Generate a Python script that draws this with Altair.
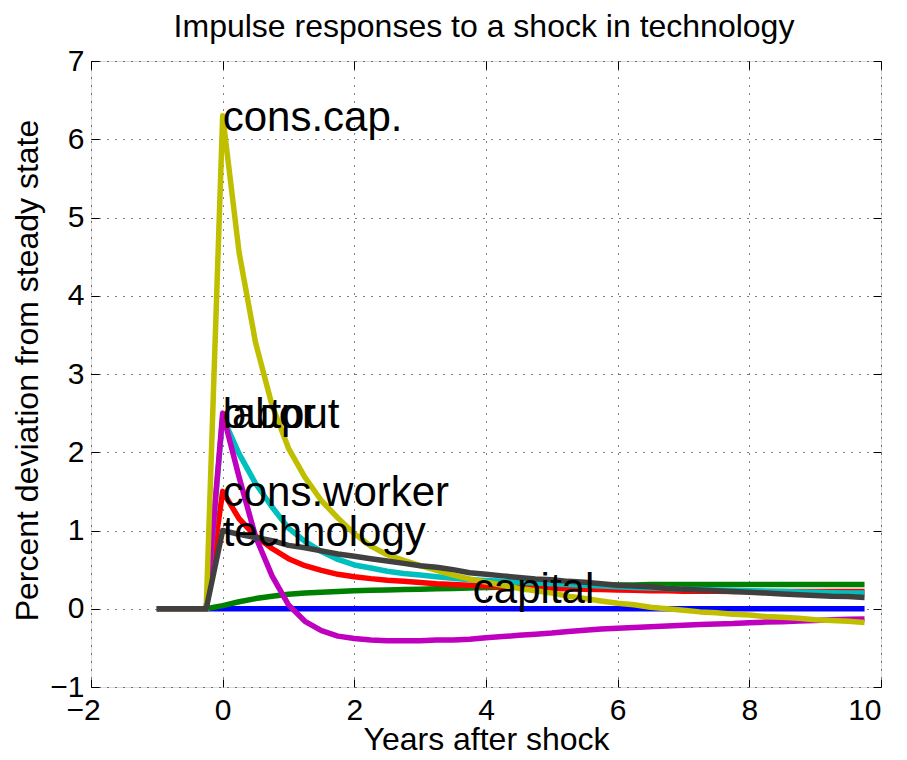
import altair as alt
import pandas as pd

title_text = ["Impulse responses to a shock in technology"]

years = [-1.0, -0.75, -0.5, -0.25,
         0.0, 0.25, 0.5, 0.75, 1.0, 1.25, 1.5, 1.75, 2.0, 2.25, 2.5, 2.75,
         3.0, 3.25, 3.5, 3.75, 4.0, 4.25, 4.5, 4.75, 5.0, 5.25, 5.5, 5.75,
         6.0, 6.25, 6.5, 6.75, 7.0, 7.25, 7.5, 7.75, 8.0, 8.25, 8.5, 8.75,
         9.0, 9.25, 9.5, 9.75]

pre = [0.0, 0.0, 0.0, 0.0]

zero_line = pre + [0.0] * 40

capital = pre + [0.04, 0.09, 0.13, 0.16, 0.185, 0.20, 0.21, 0.22, 0.23, 0.235,
                 0.24, 0.245, 0.25, 0.255, 0.26, 0.265, 0.27, 0.275, 0.28, 0.285,
                 0.29, 0.295, 0.30, 0.30, 0.305, 0.305, 0.31, 0.31, 0.31, 0.31,
                 0.31, 0.31, 0.31, 0.31, 0.31, 0.31, 0.31, 0.31, 0.31, 0.31]

cons_worker = pre + [1.50, 1.15, 0.93, 0.77, 0.64, 0.55, 0.49, 0.44, 0.41, 0.385,
                     0.365, 0.35, 0.335, 0.32, 0.31, 0.30, 0.29, 0.28, 0.27, 0.265,
                     0.26, 0.255, 0.25, 0.245, 0.24, 0.235, 0.23, 0.23, 0.225, 0.225,
                     0.225, 0.22, 0.22, 0.22, 0.22, 0.22, 0.22, 0.22, 0.22, 0.22]

output = pre + [2.45, 1.98, 1.60, 1.30, 1.03, 0.86, 0.73, 0.63, 0.56, 0.52,
                0.48, 0.45, 0.43, 0.41, 0.39, 0.37, 0.36, 0.35, 0.34, 0.33,
                0.32, 0.31, 0.30, 0.29, 0.28, 0.27, 0.265, 0.26, 0.25, 0.245,
                0.24, 0.235, 0.23, 0.225, 0.22, 0.215, 0.21, 0.205, 0.20, 0.20]

labor = pre + [2.50, 1.68, 0.92, 0.42, 0.05, -0.16, -0.28, -0.35, -0.38, -0.40,
               -0.41, -0.41, -0.41, -0.40, -0.40, -0.39, -0.37, -0.355, -0.34, -0.325,
               -0.31, -0.29, -0.275, -0.26, -0.25, -0.24, -0.23, -0.22, -0.21, -0.20,
               -0.195, -0.19, -0.18, -0.17, -0.165, -0.155, -0.15, -0.14, -0.135, -0.13]

cons_cap = pre + [6.30, 4.55, 3.40, 2.60, 2.05, 1.68, 1.38, 1.16, 0.96, 0.80,
                  0.69, 0.62, 0.55, 0.49, 0.43, 0.38, 0.34, 0.30, 0.26, 0.23,
                  0.20, 0.16, 0.13, 0.10, 0.07, 0.05, 0.02, 0.00, -0.02, -0.04,
                  -0.05, -0.07, -0.08, -0.10, -0.11, -0.12, -0.14, -0.15, -0.16, -0.175]

technology = pre + [1.00, 0.95, 0.91, 0.87, 0.81, 0.78, 0.74, 0.70, 0.67, 0.64,
                    0.61, 0.58, 0.55, 0.53, 0.50, 0.46, 0.44, 0.42, 0.40, 0.38,
                    0.37, 0.35, 0.34, 0.32, 0.30, 0.29, 0.28, 0.26, 0.25, 0.24,
                    0.23, 0.22, 0.21, 0.20, 0.19, 0.18, 0.17, 0.16, 0.155, 0.145]

series_names = ["zero", "capital", "cons.worker", "output", "labor", "cons.cap.", "technology"]
series_values = [zero_line, capital, cons_worker, output, labor, cons_cap, technology]
series_colors = ["#0000ff", "#008000", "#ff0000", "#00bfbf", "#bf00bf", "#bfbf00", "#404040"]

label_text = ["cons.cap.", "labor", "output", "cons.worker", "technology", "capital"]
label_x = [0.0, 0.0, 0.0, 0.0, 0.0, 3.8]
label_y = [6.3, 2.5, 2.5, 1.5, 1.0, 0.26]

x_ticks = [-2, 0, 2, 4, 6, 8, 10]
y_ticks = [-1, 0, 1, 2, 3, 4, 5, 6, 7]

FONT = "Liberation Sans"
W, H = 790, 626

xs = alt.Scale(domain=[-2, 10], nice=False, zero=False)
ys = alt.Scale(domain=[-1, 7], nice=False, zero=False)

x_main_axis = alt.Axis(values=x_ticks, grid=True, gridDash=[1, 7], gridColor="#000000",
                       gridOpacity=1, gridWidth=1, domain=False, ticks=True, tickSize=8,
                       tickColor="#000000", offset=-8, labelPadding=8, labelFontSize=30,
                       labelFont=FONT, labelColor="#000000", labelFlush=False,
                       labelOverlap=False, format="d",
                       labelAlign={"condition": {"test": "datum.value == 10", "value": "right"},
                                   "value": "center"},
                       labelOffset={"condition": {"test": "datum.value == -2", "value": -8},
                                    "value": 0},
                       title="Years after shock", titleFontSize=32, titleFont=FONT,
                       titleFontWeight="normal", titleColor="#000000",
                       titleBaseline="alphabetic", titleY=70)
y_main_axis = alt.Axis(values=y_ticks, grid=True, gridDash=[1, 7], gridColor="#000000",
                       gridOpacity=1, gridWidth=1, domain=False, ticks=True, tickSize=8,
                       tickColor="#000000", offset=-8, labelPadding=7, labelFontSize=30,
                       labelFont=FONT, labelColor="#000000", labelFlush=False,
                       labelOverlap=False, format="d",
                       title="Percent deviation from steady state", titleFontSize=32,
                       titleFont=FONT, titleFontWeight="normal", titleColor="#000000",
                       titleBaseline="alphabetic", titleAngle=270, titleX=-62, titleY=309,
                       titleAlign="center")
x_top_axis = alt.Axis(orient="top", values=x_ticks, grid=False, domain=False, labels=False,
                      ticks=True, tickSize=8, tickColor="#000000", offset=-8, title=None)
y_right_axis = alt.Axis(orient="right", values=y_ticks, grid=False, domain=False, labels=False,
                        ticks=True, tickSize=8, tickColor="#000000", offset=-8, title=None)

layers = []
for i, (name, vals, col) in enumerate(zip(series_names, series_values, series_colors)):
    d = pd.DataFrame({"t": years, "v": vals, "series": name})
    xa = x_main_axis if i == 0 else None
    ya = y_main_axis if i == 0 else None
    layers.append(
        alt.Chart(d).mark_line(color=col, strokeWidth=5.5, strokeJoin="round").encode(
            x=alt.X("t:Q", scale=xs, axis=xa),
            y=alt.Y("v:Q", scale=ys, axis=ya),
        )
    )

labels_df = pd.DataFrame({"t": label_x, "v": label_y, "label": label_text})
text_layer = alt.Chart(labels_df).mark_text(
    align="left", baseline="middle", fontSize=42, font=FONT, color="#000000", dy=2
).encode(
    x=alt.X("t:Q", scale=xs, axis=x_top_axis),
    y=alt.Y("v:Q", scale=ys, axis=y_right_axis),
    text="label:N",
)
layers.append(text_layer)

title_layer = alt.Chart(pd.DataFrame({"title": title_text})).mark_text(
    align="center", baseline="alphabetic", fontSize=32, font=FONT, color="#000000"
).encode(
    x=alt.value(W / 2 - 2),
    y=alt.value(-24),
    text="title:N",
)
layers.append(title_layer)

chart = alt.layer(*layers).resolve_axis(x="independent", y="independent").properties(
    width=W,
    height=H,
    autosize=alt.AutoSizeParams(type="none"),
    padding={"left": 83, "top": 53, "right": 18, "bottom": 72},
).configure_view(stroke="#000000", strokeWidth=1.3).configure(background="#ffffff")

chart.save("out.html", embed_options={"renderer": "svg", "actions": False})
